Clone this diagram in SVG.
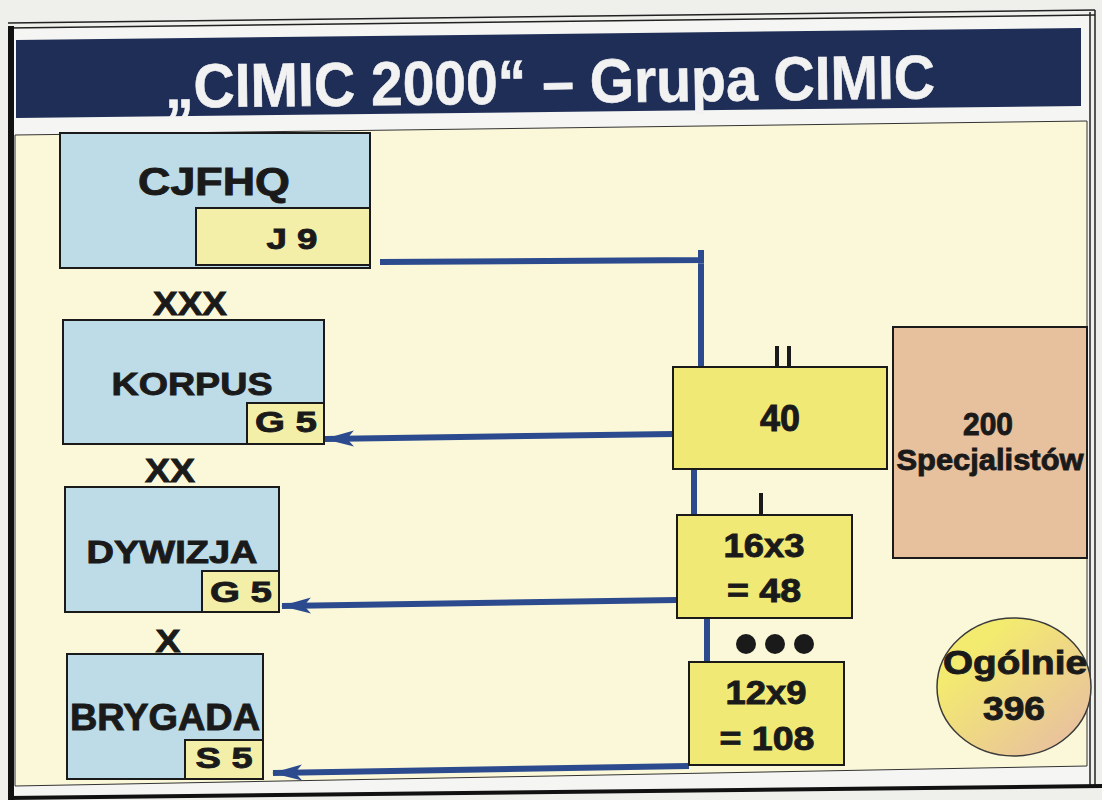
<svg xmlns="http://www.w3.org/2000/svg" width="1102" height="800" viewBox="0 0 1102 800">
<defs>
<style>
.t{font-family:"Liberation Sans",Arial,sans-serif;font-weight:bold;fill:#1a1a1a;stroke:#1a1a1a;stroke-width:0.9;text-anchor:middle}
.blue{fill:#bddce7;stroke:#1a1a1a;stroke-width:2}
.sub{fill:#f4efa8;stroke:#1a1a1a;stroke-width:2}
.yel{fill:#f1e976;stroke:#1a1a1a;stroke-width:2}
.con{fill:none;stroke:#2c4a8e;stroke-width:6}
.tick{stroke:#1a1a1a;stroke-width:4}
</style>
<marker id="ah" viewBox="0 0 30 20" refX="29" refY="10" markerUnits="userSpaceOnUse" markerWidth="30" markerHeight="20" orient="auto">
<path d="M0,2 L30,10 L0,18 L7,10 Z" fill="#2c4a8e"/>
</marker>
<linearGradient id="cg" x1="0" y1="0" x2="1" y2="1">
<stop offset="0.25" stop-color="#f3ea70"/>
<stop offset="0.85" stop-color="#e9c39c"/>
</linearGradient>
</defs>
<rect width="1102" height="800" fill="#efefec"/>
<polygon points="14,28 1090,14 1090,786 14,798" fill="#f5f5f3"/>
<polygon points="15,135 1087,121 1087,766 15,786" fill="#fbf8d9" stroke="#333" stroke-width="1"/>
<polygon points="16,40 1081,28 1081,106 16,118" fill="#1f2e57"/>
<line x1="8" y1="23" x2="1095" y2="10" stroke="#222" stroke-width="1.5"/>
<line x1="8" y1="28" x2="1095" y2="15" stroke="#222" stroke-width="1.5"/>
<line x1="11" y1="26" x2="11" y2="800" stroke="#111" stroke-width="6"/>
<line x1="1090" y1="12" x2="1090" y2="788" stroke="#222" stroke-width="1.5"/>
<line x1="1095" y1="10" x2="1095" y2="788" stroke="#222" stroke-width="1.5"/>
<line x1="8" y1="798" x2="1102" y2="786" stroke="#111" stroke-width="4"/>
<text class="t" x="550" y="103" font-size="62" style="fill:#f2f2f2;stroke:#f2f2f2;stroke-width:0.6" textLength="770" lengthAdjust="spacingAndGlyphs" transform="rotate(-0.7 550 80)">„CIMIC 2000“ – Grupa CIMIC</text>

<g id="connectors">
<polyline class="con" points="380,262 701,260 701,250 701,367"/>
<line class="con" x1="673" y1="434" x2="325" y2="439" marker-end="url(#ah)"/>
<line class="con" x1="694" y1="469" x2="694" y2="515"/>
<line class="con" x1="677" y1="600" x2="282" y2="606" marker-end="url(#ah)"/>
<line class="con" x1="707" y1="618" x2="707" y2="662"/>
<line class="con" x1="689" y1="766" x2="273" y2="773" marker-end="url(#ah)"/>
</g>

<g id="cjfhq">
<rect class="blue" x="60" y="133" width="310" height="135"/>
<text class="t" x="214" y="195" font-size="38" textLength="152" lengthAdjust="spacingAndGlyphs">CJFHQ</text>
<rect class="sub" x="196" y="208" width="174" height="57"/>
<text class="t" x="292" y="249" font-size="30" textLength="51" lengthAdjust="spacingAndGlyphs">J 9</text>
</g>
<g id="xxx"><text class="t" x="190" y="315" font-size="34" textLength="74" lengthAdjust="spacingAndGlyphs">XXX</text></g>
<g id="korpus">
<rect class="blue" x="63" y="320" width="261" height="124"/>
<text class="t" x="192" y="395" font-size="32" textLength="161" lengthAdjust="spacingAndGlyphs">KORPUS</text>
<rect class="sub" x="247" y="403" width="77" height="41"/>
<text class="t" x="286" y="432" font-size="30" textLength="62" lengthAdjust="spacingAndGlyphs">G 5</text>
</g>
<g id="xx"><text class="t" x="170" y="482" font-size="34" textLength="50" lengthAdjust="spacingAndGlyphs">XX</text></g>
<g id="dywizja">
<rect class="blue" x="65" y="487" width="214" height="125"/>
<text class="t" x="172" y="563" font-size="31" textLength="171" lengthAdjust="spacingAndGlyphs">DYWIZJA</text>
<rect class="sub" x="202" y="571" width="77" height="41"/>
<text class="t" x="241" y="602" font-size="30" textLength="62" lengthAdjust="spacingAndGlyphs">G 5</text>
</g>
<g id="x"><text class="t" x="168" y="652" font-size="32" textLength="25" lengthAdjust="spacingAndGlyphs">X</text></g>
<g id="brygada">
<rect class="blue" x="67" y="654" width="196" height="125"/>
<text class="t" x="165" y="730" font-size="36" textLength="190" lengthAdjust="spacingAndGlyphs">BRYGADA</text>
<rect class="sub" x="185" y="740" width="78" height="39"/>
<text class="t" x="224" y="768" font-size="30" textLength="57" lengthAdjust="spacingAndGlyphs">S 5</text>
</g>

<g id="b40">
<line class="tick" x1="777" y1="346" x2="777" y2="367"/>
<line class="tick" x1="789" y1="346" x2="789" y2="367"/>
<rect class="yel" x="673" y="367" width="214" height="102"/>
<text class="t" x="780" y="431" font-size="36" textLength="40" lengthAdjust="spacingAndGlyphs">40</text>
</g>
<g id="b16x3">
<line class="tick" x1="761" y1="493" x2="761" y2="515"/>
<rect class="yel" x="677" y="515" width="175" height="103"/>
<text class="t" x="764" y="557" font-size="33" textLength="81" lengthAdjust="spacingAndGlyphs">16x3</text>
<text class="t" x="764" y="602" font-size="33" textLength="74" lengthAdjust="spacingAndGlyphs">= 48</text>
</g>
<g id="dots">
<circle cx="746" cy="644" r="10" fill="#1a1a1a"/>
<circle cx="775" cy="644" r="10" fill="#1a1a1a"/>
<circle cx="804" cy="644" r="10" fill="#1a1a1a"/>
</g>
<g id="b12x9">
<rect class="yel" x="689" y="662" width="155" height="103"/>
<text class="t" x="766" y="704" font-size="33" textLength="81" lengthAdjust="spacingAndGlyphs">12x9</text>
<text class="t" x="767" y="750" font-size="33" textLength="95" lengthAdjust="spacingAndGlyphs">= 108</text>
</g>
<g id="spec">
<rect x="893" y="327" width="194" height="231" fill="#e7c09d" stroke="#1a1a1a" stroke-width="2"/>
<text class="t" x="988" y="435" font-size="32" textLength="50" lengthAdjust="spacingAndGlyphs">200</text>
<text class="t" x="990" y="470" font-size="30" textLength="187" lengthAdjust="spacingAndGlyphs">Specjalistów</text>
</g>
<g id="ogolnie">
<ellipse cx="1014" cy="687" rx="77" ry="69" fill="url(#cg)" stroke="#3a3a3a" stroke-width="1.5"/>
<text class="t" x="1015" y="674" font-size="34" textLength="144" lengthAdjust="spacingAndGlyphs">Ogólnie</text>
<text class="t" x="1014" y="720" font-size="33" textLength="62" lengthAdjust="spacingAndGlyphs">396</text>
</g>
</svg>
